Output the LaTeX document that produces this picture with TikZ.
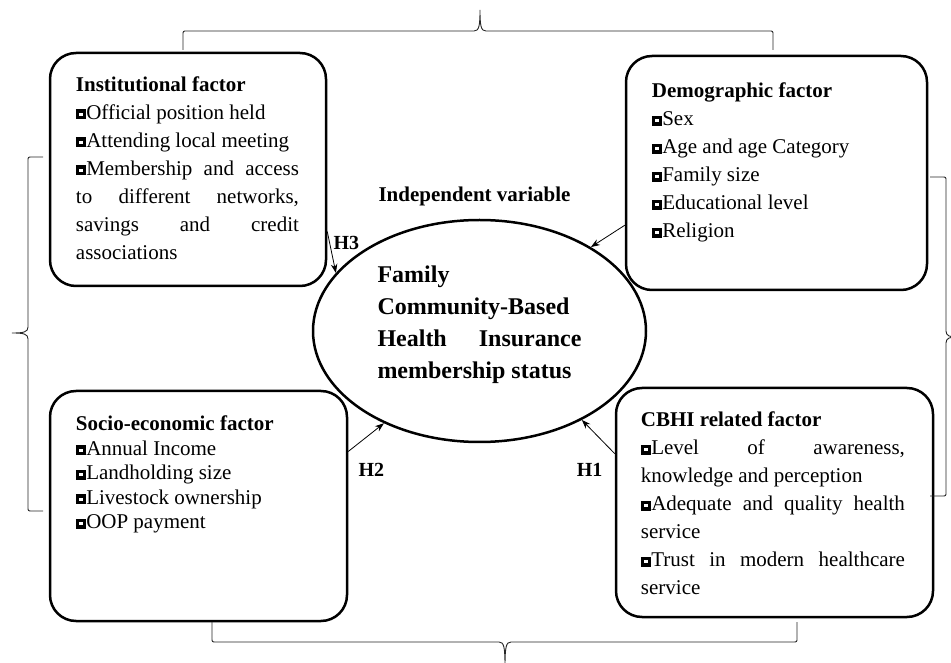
\documentclass[tikz,border=0pt]{standalone}
\usepackage{fontspec}
\setmainfont{Liberation Serif}
\usetikzlibrary{positioning, arrows.meta, shapes.geometric}

\newcommand{\sqmark}{\raisebox{3.3pt}{\setlength{\fboxsep}{0pt}\setlength{\fboxrule}{3.3pt}\fbox{\rule{3.4pt}{0pt}\rule{0pt}{3.4pt}}}\kern0.3pt}

\begin{document}
\begin{tikzpicture}[x=1pt, y=1pt,
    factor/.style={draw, line width=2.5pt, rounded corners=26pt},
    factortext/.style={inner sep=0pt, align=justify, font=\fontsize{21}{28}\selectfont},
    hyp/.style={inner sep=0pt, font=\bfseries\fontsize{20}{24}\selectfont},
    link/.style={line width=0.8pt, -{Stealth[length=9pt, width=6.5pt]}},
    bracket/.style={line width=0.9pt, black!85}]
    \useasboundingbox (0,0) rectangle (951,662);
    \clip (0,0) rectangle (951,662);
    % Outcome variable
    \node (ell) [ellipse, draw, line width=2.5pt, minimum width=333pt, minimum height=222pt, inner sep=0pt] at (479.5,331) {};
    \node (elltext) [inner sep=0pt, text width=204pt, align=justify, font=\bfseries\fontsize{24}{32}\selectfont, yshift=6pt] at (ell.center) {Family\linebreak Community-Based\linebreak Health Insurance\linebreak membership status};
    \node (indep) [above=13pt of ell, xshift=-5pt, inner sep=0pt, font=\bfseries\fontsize{21}{28}\selectfont] {Independent variable};
    % Factor boxes
    \node (inst) [factor, minimum width=276pt, minimum height=233pt] at (188,492.5) {};
    \node (insttext) [factortext, text width=223pt, below right=24.6pt and 27pt of inst.north west] {\textbf{Institutional factor}\\
        \sqmark Official position held\\
        \sqmark Attending local meeting\\
        \sqmark Membership and access\linebreak to different networks,\linebreak savings and credit\linebreak associations};
    \node (demo) [factor, minimum width=301pt, minimum height=234pt] at (776.5,489) {};
    \node (demotext) [factortext, text width=250pt, below right=28pt and 27pt of demo.north west] {\textbf{Demographic factor}\\
        \sqmark Sex\\
        \sqmark Age and age Category\\
        \sqmark Family size\\
        \sqmark Educational level\\
        \sqmark Religion};
    \node (socio) [factor, minimum width=297pt, minimum height=230pt] at (198.5,156) {};
    \node (sociotext) [factortext, font=\fontsize{21}{24.5}\selectfont, text width=250pt, below right=26pt and 27pt of socio.north west] {\textbf{Socio-economic factor}\\
        \sqmark Annual Income\\
        \sqmark Landholding size\\
        \sqmark Livestock ownership\\
        \sqmark OOP payment};
    \node (cbhi) [factor, minimum width=317pt, minimum height=229pt] at (774.5,159.5) {};
    \node (cbhitext) [factortext, text width=264pt, below right=25pt and 26pt of cbhi.north west] {\textbf{CBHI related factor}\\
        \sqmark Level of awareness,\linebreak knowledge and perception\\
        \sqmark Adequate and quality health\linebreak service\\
        \sqmark Trust in modern healthcare\linebreak service};
    % Hypotheses
    \draw [link] (inst.-24) -- node [hyp, pos=0, anchor=north west, xshift=6pt, yshift=-4pt] (h3) {H3} (ell.158);
    \draw [link] (demo.-161) -- (ell.37);
    \draw [link] (socio.20) -- node [hyp, pos=0, anchor=north west, xshift=10pt, yshift=-11pt] (h2) {H2} (ell.-136);
    \draw [link] (cbhi.163) -- node [hyp, pos=0, anchor=north east, xshift=-12pt, yshift=-9pt] (h1) {H1} (ell.-41);
    % Braces
    \draw [bracket] (183,612) -- (183,627) .. controls (183,631) .. (187,631) -- (474,631) .. controls (479,631) and (480,636) .. (480,652) .. controls (480,636) and (481,631) .. (486,631) -- (769,631) .. controls (773,631) .. (773,627) -- (773,612);
    \draw [bracket] (43,505) -- (32,505) .. controls (28,505) .. (28,501) -- (28,335) .. controls (28,330) and (24,329) .. (12,329) .. controls (24,329) and (28,328) .. (28,323) -- (28,155) .. controls (28,151) .. (32,151) -- (43,151);
    \draw [bracket] (930,485) -- (942,485) .. controls (946,485) .. (946,481) -- (946,331) .. controls (946,326) and (950,325) .. (957,325) .. controls (950,325) and (946,324) .. (946,319) -- (946,170) .. controls (946,166) .. (942,166) -- (930,166);
    \draw [bracket] (212,40) -- (212,24) .. controls (212,20) .. (216,20) -- (499,20) .. controls (504,20) and (505,15) .. (505,-5) .. controls (505,15) and (506,20) .. (511,20) -- (793,20) .. controls (797,20) .. (797,24) -- (797,40);
\end{tikzpicture}
\end{document}
